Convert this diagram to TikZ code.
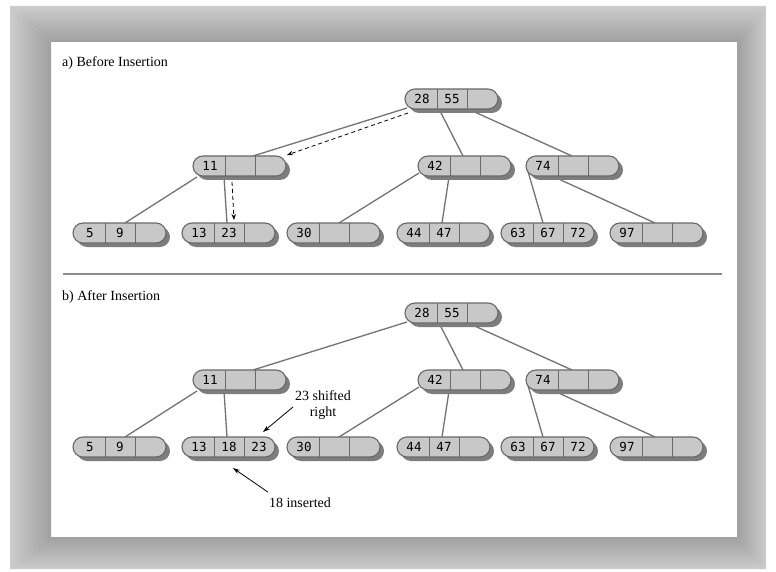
\documentclass[tikz,border=0pt]{standalone}
\usepackage{fontspec}
\setmainfont{Liberation Serif}
\newfontfamily\keyfont{DejaVu Sans Mono}
\usetikzlibrary{calc,shadows,arrows.meta}
\definecolor{capfill}{RGB}{200,200,200}
\definecolor{capline}{RGB}{105,105,105}
\definecolor{shadowc}{RGB}{125,125,125}
\definecolor{edgec}{RGB}{115,115,115}
\definecolor{framelight}{RGB}{204,204,204}
\definecolor{framedark}{RGB}{160,160,160}
\definecolor{sepc}{RGB}{140,140,140}
\pgfdeclarelayer{back}
\pgfsetlayers{back,main}
\tikzset{
  bcapsule/.style={draw=capline, fill=capfill, line width=1.1bp, rounded corners=10bp,
    minimum width=93bp, minimum height=20bp, inner sep=0pt, outer sep=0pt,
    drop shadow={shadow xshift=4bp, shadow yshift=-4bp, fill=shadowc, opacity=1}},
  keytext/.style={font=\keyfont\fontsize{12.5bp}{14bp}\selectfont, inner sep=0pt},
  divline/.style={draw=capline, line width=1bp},
  treeedge/.style={draw=edgec, line width=1.3bp},
  dasharrow/.style={draw=black, line width=0.8bp, dash pattern=on 4bp off 3bp,
    -{Stealth[length=6bp,width=4.5bp]}},
  notetext/.style={font=\fontsize{14bp}{16bp}\selectfont, inner sep=0pt},
  notearrow/.style={draw=black, line width=0.8bp, -{Stealth[length=7bp,width=4.5bp]}},
  sepline/.style={draw=sepc, line width=1.2bp}
}
\newcommand\btnode[6]{%
  \node[bcapsule, anchor=north west] (#1) at (#2,#3) {};
  \draw[divline] ($(#1.north west)+(32,0)$) -- ($(#1.south west)+(32,0)$);
  \draw[divline] ($(#1.north west)+(62,0)$) -- ($(#1.south west)+(62,0)$);
  \node[keytext] (#1-a) at ($(#1.west)+(17,0)$) {#4};
  \node[keytext] (#1-b) at ($(#1.west)+(47,0)$) {#5};
  \node[keytext] (#1-c) at ($(#1.west)+(77,0)$) {#6};
}
\newcommand\tedge[6]{%
  \draw[treeedge] ($(#1.north west)+(#2,#3)$) -- ($(#4.north west)+(#5,#6)$);
}
\newcommand\btree[5]{%
  \btnode{#1r}{405}{89+#2}{28}{55}{}
  \btnode{#1p}{193}{156+#2}{11}{}{}
  \btnode{#1q}{418}{156+#2}{42}{}{}
  \btnode{#1s}{526}{156+#2}{74}{}{}
  \btnode{#1l1}{73}{223+#2}{5}{9}{}
  \btnode{#1l2}{182}{223+#2}{#3}{#4}{#5}
  \btnode{#1l3}{287}{223+#2}{30}{}{}
  \btnode{#1l4}{397}{223+#2}{44}{47}{}
  \btnode{#1l5}{501}{223+#2}{63}{67}{72}
  \btnode{#1l6}{610}{223+#2}{97}{}{}
  \begin{pgfonlayer}{back}
    \tedge{#1r}{2}{19}{#1p}{60}{0}
    \tedge{#1r}{34}{20}{#1q}{45}{0}
    \tedge{#1r}{63}{20}{#1s}{46}{0}
    \tedge{#1p}{4}{21}{#1l1}{52}{0}
    \tedge{#1p}{31}{21}{#1l2}{45}{0}
    \tedge{#1q}{1}{17}{#1l3}{52}{0}
    \tedge{#1q}{31}{21}{#1l4}{45}{0}
    \tedge{#1s}{1}{12}{#1l5}{42}{0}
    \tedge{#1s}{26}{20}{#1l6}{45}{0}
  \end{pgfonlayer}
}
\begin{document}
\begin{tikzpicture}[x=1bp,y=-1bp]
\useasboundingbox (0,0) rectangle (776,572);
\begin{pgfonlayer}{back}
  \fill[white] (0,0) rectangle (776,572);
  \shade[top color=framelight, bottom color=framedark] (10,6) -- (766,6) -- (737,42) -- (51,42) -- cycle;
  \shade[left color=framelight, right color=framedark] (10,6) -- (51,42) -- (51,537) -- (10,569) -- cycle;
  \shade[left color=framedark, right color=framelight] (766,6) -- (737,42) -- (737,537) -- (766,569) -- cycle;
  \shade[top color=framedark, bottom color=framelight] (10,569) -- (51,537) -- (737,537) -- (766,569) -- cycle;
\end{pgfonlayer}

\node[notetext, anchor=base west] (ta) at (62,67) {a) Before Insertion};
\btree{a}{0}{13}{23}{}
\draw[dasharrow] ($(ar.north west)+(3,24)$) -- ($(ap.north west)+(94,-1)$);
\draw[dasharrow] ($(ap.north west)+(39,26)$) -- ($(al2.north west)+(52,-3)$);

\draw[sepline] (63,274) -- (722,274);

\node[notetext, anchor=base west] (tb) at (62,300) {b) After Insertion};
\btree{b}{214}{13}{18}{23}

\node[notetext, align=center] (shift) at (323,405) {23 shifted\\right};
\draw[notearrow] ($(shift.west)+(-2,2)$) -- ($(bl2.north west)+(81,-5)$);
\node[notetext, anchor=base] (ins) at (300,507) {18 inserted};
\draw[notearrow] ($(ins.north west)+(-1,-5)$) -- ($(bl2.north west)+(51,31)$);
\end{tikzpicture}
\end{document}
